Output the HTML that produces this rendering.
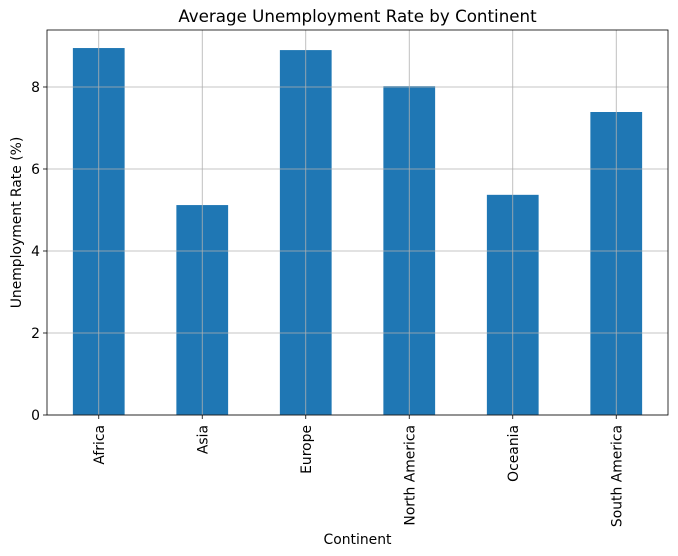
<!DOCTYPE html>
<html><head><meta charset="utf-8"><style>
body{margin:0;background:#fff;}
svg{display:block;font-family:"DejaVu Sans","Liberation Sans",sans-serif;}
</style></head><body>
<svg id="chart" width="678" height="556"></svg>
<script>
const categories=["Africa","Asia","Europe","North America","Oceania","South America"];
const values=[8.95,5.12,8.90,8.02,5.37,7.39];
const yTicks=[0,2,4,6,8];
const yMax=9.39;
const L=47,R=668,T=30,B=415;
const NS="http://www.w3.org/2000/svg";
const svg=document.getElementById('chart');
function mk(t,a,p){const e=document.createElementNS(NS,t);for(const k in a)e.setAttribute(k,a[k]);(p||svg).appendChild(e);return e;}
const step=(R-L)/categories.length;
const xC=i=>L+step*(i+0.5);
const yS=v=>B-(v/yMax)*(B-T);
values.forEach((v,i)=>{
  const r=mk('rect',{x:xC(i)-step*0.25,y:yS(v),width:step*0.5,height:B-yS(v),fill:'#1f77b4'});
  
  
});
yTicks.forEach(t=>{
  const g=mk('line',{x1:L,x2:R,y1:yS(t),y2:yS(t),stroke:'#b0b0b0','stroke-width':0.8});
  
  
  const tk=mk('line',{x1:L-4,x2:L,y1:yS(t),y2:yS(t),stroke:'#000','stroke-width':0.8});
  
  
  const tx=mk('text',{x:L-7,y:yS(t)+5,'text-anchor':'end','font-size':13.9});
  tx.textContent=t;
  
  
});
categories.forEach((c,i)=>{
  const g=mk('line',{x1:xC(i),x2:xC(i),y1:T,y2:B,stroke:'#b0b0b0','stroke-width':0.8});
  
  
  const tk=mk('line',{x1:xC(i),x2:xC(i),y1:B,y2:B+4,stroke:'#000','stroke-width':0.8});
  
  
  const tx=mk('text',{x:0,y:0,'text-anchor':'end','font-size':13.9,transform:`translate(${xC(i)+5},${B+10}) rotate(-90)`});
  tx.textContent=c;
  
  
});
const frame=mk('rect',{x:L,y:T,width:R-L,height:B-T,fill:'none',stroke:'#000','stroke-width':0.8});


const title=mk('text',{x:(L+R)/2,y:22,'text-anchor':'middle','font-size':16.7});
title.textContent='Average Unemployment Rate by Continent';


const xl=mk('text',{x:(L+R)/2,y:544,'text-anchor':'middle','font-size':13.9});
xl.textContent='Continent';


const yl=mk('text',{x:0,y:0,'text-anchor':'middle','font-size':13.9,transform:`translate(21,${(T+B)/2}) rotate(-90)`});
yl.textContent='Unemployment Rate (%)';


</script>
</body></html>
